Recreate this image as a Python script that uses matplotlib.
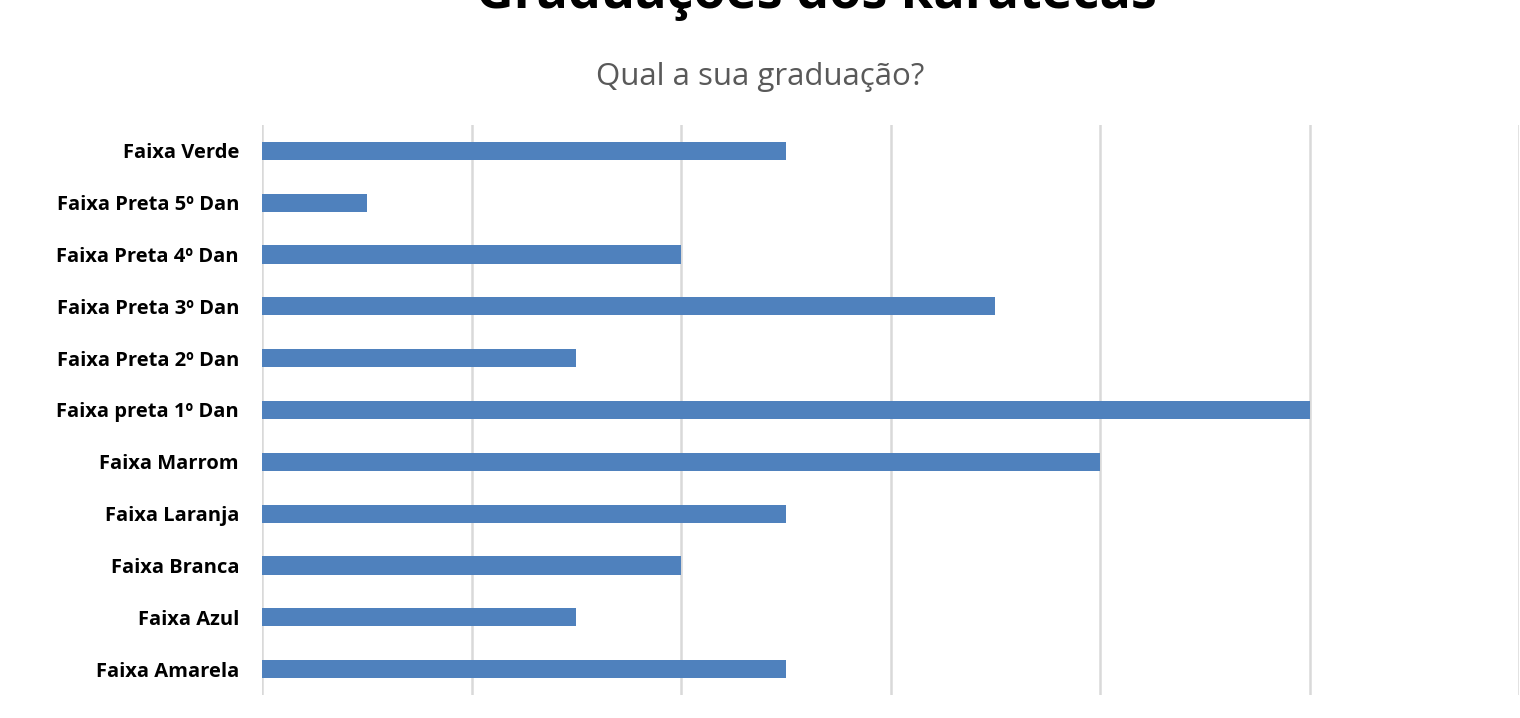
import matplotlib.pyplot as plt
import numpy as np

faixas = ['Faixa Amarela', 'Faixa Azul', 'Faixa Branca', 'Faixa Laranja',
          'Faixa Marrom', 'Faixa preta 1º Dan', 'Faixa Preta 2º Dan',
          'Faixa Preta 3º Dan', 'Faixa Preta 4º Dan', 'Faixa Preta 5º Dan',
          'Faixa Verde']
respostas = [5, 3, 4, 5, 8, 10, 3, 7, 4, 1, 5]

plt.rcParams['font.family'] = ['Open Sans', 'DejaVu Sans']

fig = plt.figure(figsize=(15.2, 7.18), dpi=100)
ax = fig.add_axes([262/1520, 23/718, 1257/1520, 570/718])

y = np.arange(len(faixas))
ax.barh(y, respostas, height=0.35, color='#4F81BD', zorder=3)

ax.set_xlim(0, 12)
ax.set_ylim(-0.5, len(faixas) - 0.5)
ax.set_xticks(np.arange(0, 13, 2))
ax.set_xticklabels([])
ax.set_yticks(y)
ax.set_yticklabels(faixas, fontsize=14.5, fontweight='bold', color='#000000')
ax.tick_params(axis='both', length=0)
ax.tick_params(axis='y', pad=16.5)
ax.grid(axis='x', color='#D9D9D9', linewidth=1.8, zorder=0)
for s in ax.spines.values():
    s.set_visible(False)

# titulo (cortado no topo) e subtitulo
fig.text(816/1520, 1 - 8/718, 'Graduações dos karatecas', ha='center',
         va='baseline', fontsize=37.5, fontweight='bold', color='#000000')
fig.text(760/1520, 1 - 77/718, 'Qual a sua graduação?', ha='center',
         va='center', fontsize=22.5, color='#595959')

plt.savefig('out.png', dpi=100)
